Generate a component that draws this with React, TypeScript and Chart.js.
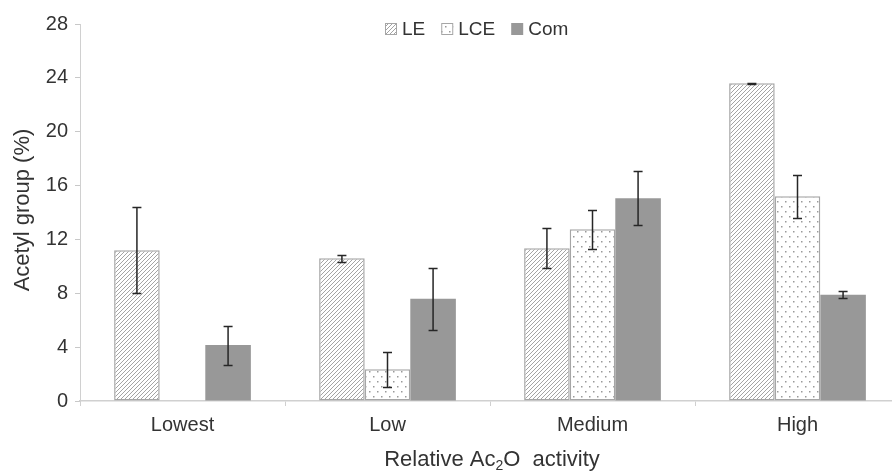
import { useEffect, useRef } from 'react';
import { Chart, registerables } from 'chart.js';

Chart.register(...registerables);

const categories = ['Lowest', 'Low', 'Medium', 'High'];
const seriesNames = ['LE', 'LCE', 'Com'];
const leValues = [11.2, 10.6, 11.35, 23.6];
const leErrors = [3.2, 0.25, 1.5, 0.05];
const lceValues = [null, 2.35, 12.75, 15.2];
const lceErrors = [0, 1.3, 1.45, 1.6];
const comValues = [4.15, 7.6, 15.05, 7.9];
const comErrors = [1.45, 2.3, 2.0, 0.28];
const yTicksMajor = [0, 4, 8, 12, 16, 20, 24, 28];
const yTitle = 'Acetyl group (%)';
const xTitleParts = ['Relative Ac', '2', 'O  activity'];

const FONT = "'Liberation Sans', Arial, sans-serif";
const TEXT = '#333333';
const BORDER = '#a6a6a6';
const COM = '#989898';

function makeHatch(ctx: CanvasRenderingContext2D) {
  const s = 4;
  const c = document.createElement('canvas');
  c.width = s;
  c.height = s;
  const g = c.getContext('2d')!;
  g.fillStyle = '#ffffff';
  g.fillRect(0, 0, s, s);
  g.strokeStyle = '#a4a4a4';
  g.lineWidth = 1;
  g.beginPath();
  g.moveTo(0, s);
  g.lineTo(s, 0);
  g.moveTo(-1, 1);
  g.lineTo(1, -1);
  g.moveTo(s - 1, s + 1);
  g.lineTo(s + 1, s - 1);
  g.stroke();
  return ctx.createPattern(c, 'repeat')!;
}

function makeDots(ctx: CanvasRenderingContext2D) {
  const c = document.createElement('canvas');
  c.width = 8;
  c.height = 10;
  const g = c.getContext('2d')!;
  g.fillStyle = '#ffffff';
  g.fillRect(0, 0, 8, 10);
  g.fillStyle = '#9a9a9a';
  g.fillRect(1, 1, 1.5, 1.5);
  g.fillRect(5, 6, 1.5, 1.5);
  return ctx.createPattern(c, 'repeat')!;
}

const errorLists = [leErrors, lceErrors, comErrors];

const errorBarPlugin = {
  id: 'errorBars',
  afterDatasetsDraw(chart: any) {
    const ctx = chart.ctx;
    const y = chart.scales.y;
    ctx.save();
    ctx.strokeStyle = '#262626';
    ctx.lineWidth = 1.5;
    chart.data.datasets.forEach((ds: any, i: number) => {
      const meta = chart.getDatasetMeta(i);
      meta.data.forEach((el: any, j: number) => {
        const v = ds.data[j];
        const e = errorLists[i][j];
        if (v === null || v === undefined || !e) return;
        const x = el.x;
        const yt = Math.round(y.getPixelForValue(v + e)) + 0.5;
        const yb = Math.round(y.getPixelForValue(v - e)) + 0.5;
        ctx.beginPath();
        ctx.moveTo(x, yt);
        ctx.lineTo(x, yb);
        ctx.moveTo(x - 4.5, yt);
        ctx.lineTo(x + 4.5, yt);
        ctx.moveTo(x - 4.5, yb);
        ctx.lineTo(x + 4.5, yb);
        ctx.stroke();
      });
    });
    ctx.restore();
  },
};

const decorPlugin = {
  id: 'decor',
  afterDraw(chart: any) {
    const ctx = chart.ctx;
    const area = chart.chartArea;
    ctx.save();
    // y title
    ctx.fillStyle = TEXT;
    ctx.font = `22px ${FONT}`;
    ctx.textAlign = 'center';
    ctx.textBaseline = 'middle';
    ctx.save();
    ctx.translate(23, 210);
    ctx.rotate(-Math.PI / 2);
    ctx.fillText(yTitle, 0, 0);
    ctx.restore();
    // x title with subscript
    ctx.textAlign = 'left';
    ctx.textBaseline = 'alphabetic';
    const big = `22px ${FONT}`;
    const small = `14px ${FONT}`;
    ctx.font = big;
    const w0 = ctx.measureText(xTitleParts[0]).width;
    const w2 = ctx.measureText(xTitleParts[2]).width;
    ctx.font = small;
    const w1 = ctx.measureText(xTitleParts[1]).width;
    const total = w0 + w1 + w2;
    let x = (area.left + area.right) / 2 - total / 2 + 2;
    const base = 466;
    ctx.font = big;
    ctx.fillText(xTitleParts[0], x, base);
    x += w0;
    ctx.font = small;
    ctx.fillText(xTitleParts[1], x, base + 4);
    x += w1;
    ctx.font = big;
    ctx.fillText(xTitleParts[2], x, base);
    // legend
    const fills = chart.data.datasets.map((d: any) => d.backgroundColor);
    const borders = chart.data.datasets.map((d: any) => d.borderWidth);
    ctx.font = `19px ${FONT}`;
    const box = 12;
    const gap = 5;
    const itemGap = 16;
    const widths = seriesNames.map((n) => box + gap + ctx.measureText(n).width);
    let lx = 385;
    const by = 23;
    seriesNames.forEach((n, i) => {
      ctx.fillStyle = fills[i];
      ctx.fillRect(lx, by, box, box);
      if (borders[i]) {
        ctx.strokeStyle = BORDER;
        ctx.lineWidth = 1;
        ctx.strokeRect(lx + 0.5, by + 0.5, box - 1, box - 1);
      }
      ctx.fillStyle = TEXT;
      ctx.textBaseline = 'alphabetic';
      ctx.fillText(n, lx + box + gap, 35);
      lx += widths[i] + itemGap;
    });
    ctx.restore();
  },
};

export default function App() {
  const ref = useRef<HTMLCanvasElement>(null);
  useEffect(() => {
    const canvas = ref.current!;
    const ctx = canvas.getContext('2d')!;
    const hatch = makeHatch(ctx);
    const dots = makeDots(ctx);
    const chart = new Chart(canvas, {
      type: 'bar',
      data: {
        labels: categories,
        datasets: [
          { label: seriesNames[0], data: leValues, backgroundColor: hatch as any, borderColor: BORDER, borderWidth: 1.5, borderSkipped: false },
          { label: seriesNames[1], data: lceValues as any, backgroundColor: dots as any, borderColor: BORDER, borderWidth: 1.5, borderSkipped: false },
          { label: seriesNames[2], data: comValues, backgroundColor: COM, borderColor: COM, borderWidth: 0 },
        ],
      },
      options: {
        animation: false,
        responsive: false,
        devicePixelRatio: 1,
        layout: { padding: { top: 24, left: 0, right: 0, bottom: 0 } },
        datasets: { bar: { barPercentage: 1, categoryPercentage: 0.667 } },
        plugins: { legend: { display: false }, tooltip: { enabled: false } },
        scales: {
          x: {
            type: 'category',
            offset: true,
            grid: { display: true, drawOnChartArea: false, drawTicks: true, tickLength: 5, color: '#d0d0d0', offset: true },
            border: { display: true, color: '#d0d0d0', width: 1.5 },
            ticks: { color: TEXT, font: { family: FONT, size: 20 }, padding: 7 },
            afterFit: (s: any) => { s.height = 70; },
          },
          y: {
            min: 0,
            max: 28,
            grid: { display: true, drawOnChartArea: false, drawTicks: true, tickLength: 5, color: '#c8c8c8' },
            border: { display: true, color: '#d0d0d0', width: 1 },
            ticks: {
              stepSize: 2,
              color: TEXT,
              font: { family: FONT, size: 20 },
              padding: 7,
              callback: (v: any) => (yTicksMajor.includes(Number(v)) ? String(v) : ''),
            },
            afterFit: (s: any) => { s.width = 80; },
          },
        },
      },
      plugins: [errorBarPlugin, decorPlugin],
    });
    return () => chart.destroy();
  }, []);
  return (
    <div style={{ position: 'fixed', left: 0, top: 0, width: 892, height: 471, overflow: 'hidden', background: '#fff' }}>
      <canvas ref={ref} width={900} height={471} style={{ display: 'block', width: 900, height: 471 }} />
    </div>
  );
}
